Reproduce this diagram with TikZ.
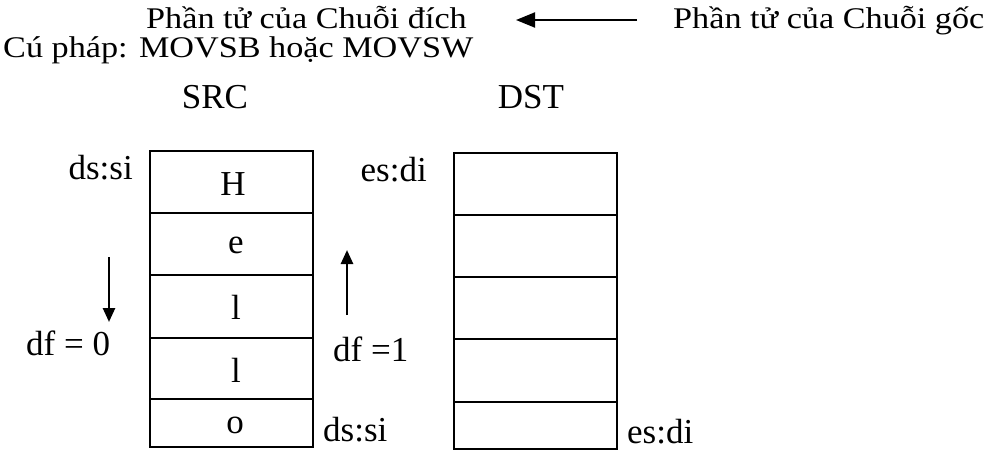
\documentclass[tikz,border=0pt]{standalone}
\usepackage{fontspec}
\setmainfont{Liberation Serif}
\newfontfamily\topfont[FakeStretch=1.14]{Liberation Serif}
\usetikzlibrary{arrows.meta}
\begin{document}
\begin{tikzpicture}[x=1pt,y=-1pt,
  toptxt/.style={inner sep=0pt,anchor=base west,font=\topfont\fontsize{30}{34}\selectfont},
  lbl/.style={inner sep=0pt,font=\fontsize{35}{40}\selectfont},
  cell/.style={draw,line width=1.6pt,inner sep=0pt,minimum width=163pt},
  arr/.style={line width=2.6pt,-{Triangle[length=14pt,width=12pt]}}]
\useasboundingbox (0,0) rectangle (994,450);
% top text
\node[toptxt,text depth=0pt] (dich) at (146,28) {Phần tử của Chuỗi đích};
\node[toptxt,text depth=0pt] (goc) at (673,28) {Phần tử của Chuỗi gốc};
\node[toptxt,text height=20pt] (syn) at (3,57) {Cú pháp: MOVSB hoặc MOVSW};
\coordinate (aS) at (637,20);
\coordinate (aE) at (516,20);
\draw[line width=2pt,-{Triangle[length=19pt,width=15pt]}] (aS) -- (aE);
% headers
\node[lbl,anchor=base] (src) at (215,108) {SRC};
\node[lbl,anchor=base] (dst) at (531,108) {DST};
% SRC table
\node[cell,minimum height=62pt,anchor=north west] (s1) at (149,150) {};
\node[cell,minimum height=62pt,anchor=north west] (s2) at (149,212) {};
\node[cell,minimum height=63pt,anchor=north west] (s3) at (149,274) {};
\node[cell,minimum height=61pt,anchor=north west] (s4) at (149,337) {};
\node[cell,minimum height=48pt,anchor=north west] (s5) at (149,398) {};
\node[lbl,anchor=base] (tH) at (233,195) {H};
\node[lbl,anchor=base] (te) at (236,253) {e};
\node[lbl,anchor=base] (tl1) at (236,319) {l};
\node[lbl,anchor=base] (tl2) at (236,382) {l};
\node[lbl,anchor=base] (to) at (235,433) {o};
% DST table
\node[cell,minimum height=62pt,anchor=north west] (d1) at (453,152) {};
\node[cell,minimum height=62pt,anchor=north west] (d2) at (453,214) {};
\node[cell,minimum height=62pt,anchor=north west] (d3) at (453,276) {};
\node[cell,minimum height=63pt,anchor=north west] (d4) at (453,338) {};
\node[cell,minimum height=47pt,anchor=north west] (d5) at (453,401) {};
% labels
\node[lbl,anchor=base east] (dssi1) at (133,179) {ds:si};
\node[lbl,anchor=base east] (esdi1) at (427,181) {es:di};
\node[lbl,anchor=base west] (df0) at (26,355) {df = 0};
\node[lbl,anchor=base west] (df1) at (333,361) {df =1};
\node[lbl,anchor=base west] (dssi2) at (323,441) {ds:si};
\node[lbl,anchor=base west] (esdi2) at (627,443) {es:di};
% direction arrows
\coordinate (dnS) at (109,257);
\coordinate (dnE) at (109,322);
\draw[arr] (dnS) -- (dnE);
\coordinate (upS) at (347,315);
\coordinate (upE) at (347,250);
\draw[arr] (upS) -- (upE);
\end{tikzpicture}
\end{document}
